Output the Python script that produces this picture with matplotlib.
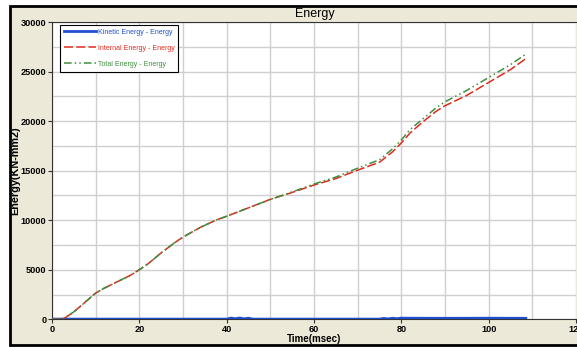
import matplotlib
matplotlib.use("Agg")
import matplotlib.pyplot as plt
from matplotlib.patches import Rectangle
from matplotlib.ticker import MultipleLocator
import numpy as np

plt.rcParams['font.family'] = ['Liberation Sans', 'DejaVu Sans']

# data
time_int = [0, 1.8, 3, 5, 7, 10, 12, 15, 18, 20, 22, 25, 28, 30, 34, 37.5, 40, 45,
            50, 55, 60, 65, 70, 75, 78, 80, 82, 85, 88, 90, 95, 100, 105, 108.5]
internal = [0, 0, 150, 750, 1500, 2650, 3150, 3800, 4450, 5000, 5600, 6700, 7700,
            8300, 9280, 10000, 10400, 11250, 12100, 12800, 13550, 14200, 15050,
            15850, 16900, 17800, 18800, 19950, 21000, 21550, 22600, 23900, 25200, 26300]
total = [0, 0, 150, 750, 1500, 2650, 3150, 3800, 4450, 5000, 5600, 6700, 7700,
         8300, 9280, 10000, 10400, 11250, 12100, 12850, 13650, 14350, 15250,
         16100, 17200, 18100, 19150, 20250, 21350, 21950, 23100, 24400, 25700, 26750]
time_kin = [0, 40, 41, 42, 43, 44, 45, 46, 75, 76, 77, 78, 79, 80, 81, 90, 100, 108.5]
kinetic = [20, 20, 120, 60, 130, 50, 110, 20, 20, 90, 40, 110, 60, 120, 110, 100, 110, 100]

beige = '#ECE9D8'
fig = plt.figure(figsize=(5.77, 3.47), dpi=100, facecolor='white')
fig.patches.append(Rectangle((9.5 / 577, 2 / 347), 1.0, 339 / 347, transform=fig.transFigure,
                             facecolor=beige, edgecolor='black', linewidth=2, zorder=-10))

ax = fig.add_axes([52 / 577, 27.7 / 347, 524 / 577, 297.3 / 347])
ax.set_facecolor('white')

ax.plot(time_kin, kinetic, color='#1F4FD0', lw=2.0, label='Kinetic Energy - Energy', zorder=3)
ax.plot(time_int, internal, color='#E02A1E', lw=1.1, dashes=(6, 2),
        label='Internal Energy - Energy', zorder=4)
ax.plot(time_int, total, color='#3F8F3F', lw=1.1, dashes=(5, 2, 1, 2, 1, 2),
        label='Total Energy - Energy', zorder=5)

ax.set_xlim(0, 120)
ax.set_ylim(0, 30000)
ax.xaxis.set_major_locator(MultipleLocator(20))
ax.xaxis.set_minor_locator(MultipleLocator(10))
ax.yaxis.set_major_locator(MultipleLocator(5000))
ax.yaxis.set_minor_locator(MultipleLocator(2500))
ax.grid(True, which='both', color='#CFCFCF', lw=1.0)
ax.set_axisbelow(True)
ax.tick_params(which='minor', length=0)
ax.tick_params(which='major', length=3, width=0.8, color='#333333', pad=1,
               labelsize=6.6)
for lab in ax.get_xticklabels() + ax.get_yticklabels():
    lab.set_fontweight('bold')
for side in ['left', 'bottom', 'top']:
    ax.spines[side].set_color('#333333')
    ax.spines[side].set_linewidth(0.8)
ax.spines['right'].set_visible(False)

ax.set_xlabel('Time(msec)', fontsize=7, fontweight='bold', labelpad=0)
ax.set_ylabel('Energy(KN-mm2)', fontsize=7.8, fontweight='bold', labelpad=0.5)

fig.text(315 / 577, 1 - 14.5 / 347, 'Energy', fontsize=9, ha='center', va='center')

leg = ax.legend(loc='upper left', bbox_to_anchor=(8 / 524, 1 - 3 / 297.3), fontsize=5,
                frameon=True, fancybox=False, edgecolor='black', framealpha=1,
                handlelength=4.7, handletextpad=0.15, labelspacing=1.3,
                borderpad=0.55, borderaxespad=0)
leg.get_frame().set_linewidth(0.8)
for txt, line in zip(leg.get_texts(), leg.get_lines()):
    txt.set_color(line.get_color())

fig.savefig('out.png', dpi=100, facecolor=fig.get_facecolor())
